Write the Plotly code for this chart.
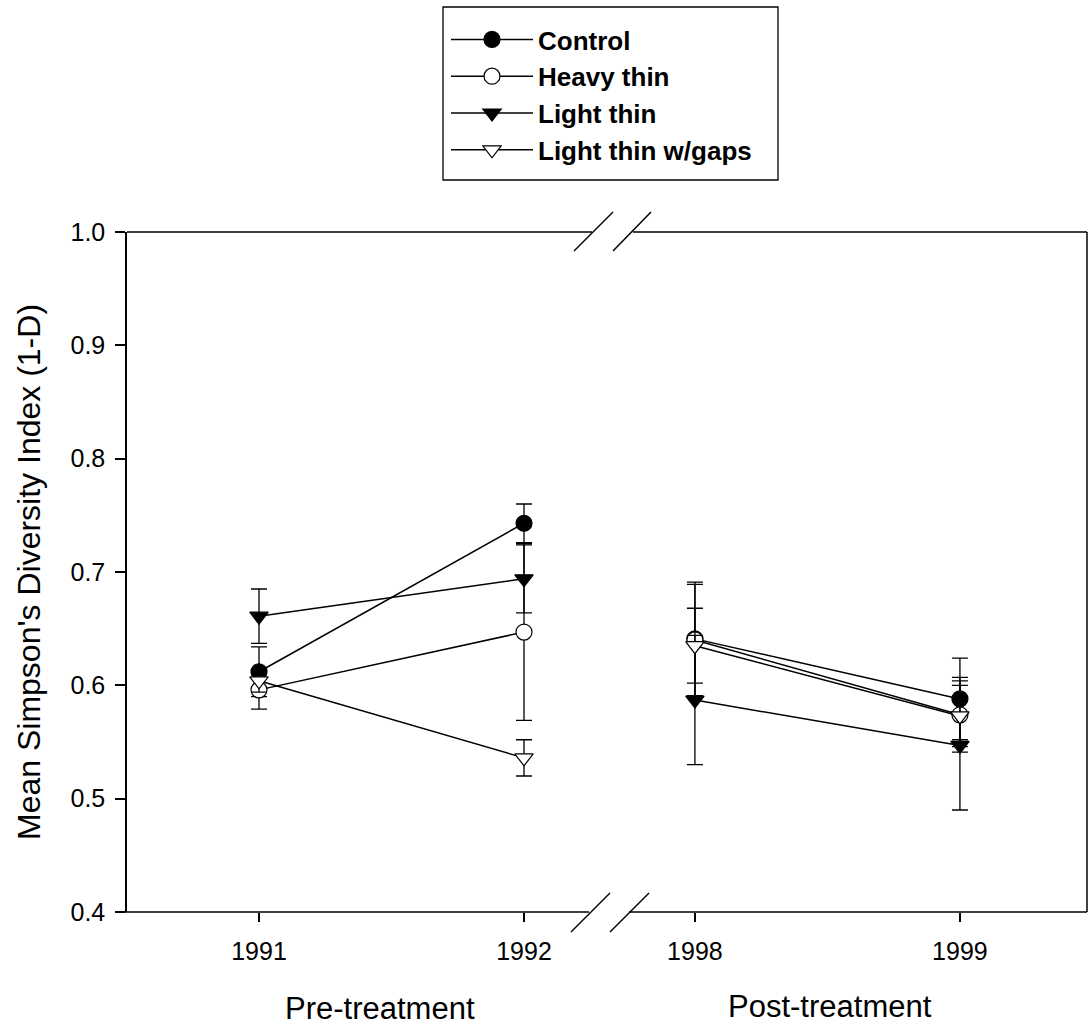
import plotly.graph_objects as go

# ---- data ----
years = ["1991", "1992", "1998", "1999"]
x_positions = [0, 1, 1.645, 2.645]  # axis positions (with break between 1992 and 1998)

series_names = ["Control", "Heavy thin", "Light thin", "Light thin w/gaps"]
control_mean = [0.612, 0.743, 0.641, 0.588]
control_err = [0.022, 0.017, 0.050, 0.036]
heavy_mean = [0.596, 0.647, 0.640, 0.574]
heavy_err = [0.017, 0.078, 0.049, 0.033]
light_mean = [0.661, 0.694, 0.587, 0.547]
light_err = [0.024, 0.030, 0.057, 0.057]
gaps_mean = [0.604, 0.536, 0.635, 0.573]
gaps_err = [0.010, 0.016, 0.033, 0.027]

y_ticks = [0.4, 0.5, 0.6, 0.7, 0.8, 0.9, 1.0]

FONT = "Arial, Liberation Sans, sans-serif"

styles = [
    dict(symbol="circle", color="black"),
    dict(symbol="circle", color="white"),
    dict(symbol="triangle-down", color="black"),
    dict(symbol="triangle-down", color="white"),
]

fig = go.Figure()
for i, (name, m, e) in enumerate(zip(series_names,
                                     [control_mean, heavy_mean, light_mean, gaps_mean],
                                     [control_err, heavy_err, light_err, gaps_err])):
    for seg in (slice(0, 2), slice(2, 4)):
        fig.add_trace(go.Scatter(
            x=x_positions[seg], y=m[seg],
            mode="lines+markers",
            name=name,
            legendgroup=name,
            showlegend=(seg.start == 0),
            line=dict(color="black", width=1.5),
            marker=dict(symbol=styles[i]["symbol"], size=16,
                        color=styles[i]["color"],
                        line=dict(color="black", width=1.2)),
            error_y=dict(type="data", array=e[seg], visible=True,
                         color="black", thickness=1.3, width=8),
        ))

# plot area geometry in pixels
W, H = 1089, 1027
L, R, T, B = 127, 1087, 232, 912
def px(x):
    return (x - L) / (R - L)
def py(y):
    return (B - y) / (B - T)

line_style = dict(color="black", width=1.5)
shapes = [
    # bottom axis with break
    dict(type="line", xref="paper", yref="paper", x0=px(117), x1=px(589), y0=0, y1=0, line=line_style),
    dict(type="line", xref="paper", yref="paper", x0=px(629), x1=1, y0=0, y1=0, line=line_style),
    # top axis with break
    dict(type="line", xref="paper", yref="paper", x0=0, x1=px(592), y0=1, y1=1, line=line_style),
    dict(type="line", xref="paper", yref="paper", x0=px(633), x1=1, y0=1, y1=1, line=line_style),
    # right spine
    dict(type="line", xref="paper", yref="paper", x0=1, x1=1, y0=0, y1=1, line=line_style),
    # break slashes bottom
    dict(type="line", xref="paper", yref="paper", x0=px(571), y0=py(932), x1=px(610), y1=py(893), line=line_style),
    dict(type="line", xref="paper", yref="paper", x0=px(610), y0=py(932), x1=px(649), y1=py(893), line=line_style),
    # break slashes top
    dict(type="line", xref="paper", yref="paper", x0=px(574), y0=py(251), x1=px(613), y1=py(212), line=line_style),
    dict(type="line", xref="paper", yref="paper", x0=px(613), y0=py(251), x1=px(651), y1=py(212), line=line_style),
    # legend frame
    dict(type="rect", xref="paper", yref="paper", x0=px(443), x1=px(778), y0=py(180), y1=py(7),
         line=dict(color="black", width=1.3), fillcolor="rgba(0,0,0,0)"),
]

annotations = [
    dict(text="Mean Simpson's Diversity Index (1-D)", xref="paper", yref="paper",
         x=px(29), y=0.5, textangle=-90, showarrow=False,
         xanchor="center", yanchor="middle", font=dict(size=32, color="black", family=FONT)),
    dict(text="Pre-treatment", xref="paper", yref="paper", x=px(380), y=py(1008),
         showarrow=False, xanchor="center", yanchor="middle",
         font=dict(size=31, color="black", family=FONT)),
    dict(text="Post-treatment", xref="paper", yref="paper", x=px(830), y=py(1006),
         showarrow=False, xanchor="center", yanchor="middle",
         font=dict(size=31, color="black", family=FONT)),
]

fig.update_layout(
    width=W, height=H,
    margin=dict(l=L, r=W - R, t=T, b=H - B, pad=0),
    paper_bgcolor="white", plot_bgcolor="white",
    font=dict(family=FONT, color="black"),
    shapes=shapes, annotations=annotations,
    showlegend=True,
    legend=dict(x=px(446), y=py(16), xanchor="left", yanchor="top",
                bgcolor="rgba(0,0,0,0)", borderwidth=0,
                font=dict(size=26, family=FONT, color="black", weight="bold"),
                itemwidth=82, tracegroupgap=0,
                traceorder="normal"),
    xaxis=dict(range=[(L - 259) / 265, (R - 259) / 265],
               tickvals=x_positions, ticktext=years,
               ticks="outside", ticklen=9, tickwidth=1.5, tickcolor="black",
               ticklabelstandoff=8,
               showline=False, showgrid=False, zeroline=False,
               tickfont=dict(size=25, family=FONT, color="black")),
    yaxis=dict(range=[0.4, 1.0], tickvals=y_ticks, tickformat=".1f",
               ticks="outside", ticklen=10, tickwidth=1.5, tickcolor="black",
               ticklabelstandoff=5,
               showline=True, linecolor="black", linewidth=1.5,
               showgrid=False, zeroline=False,
               tickfont=dict(size=25, family=FONT, color="black")),
)

fig.write_html("out.html")
